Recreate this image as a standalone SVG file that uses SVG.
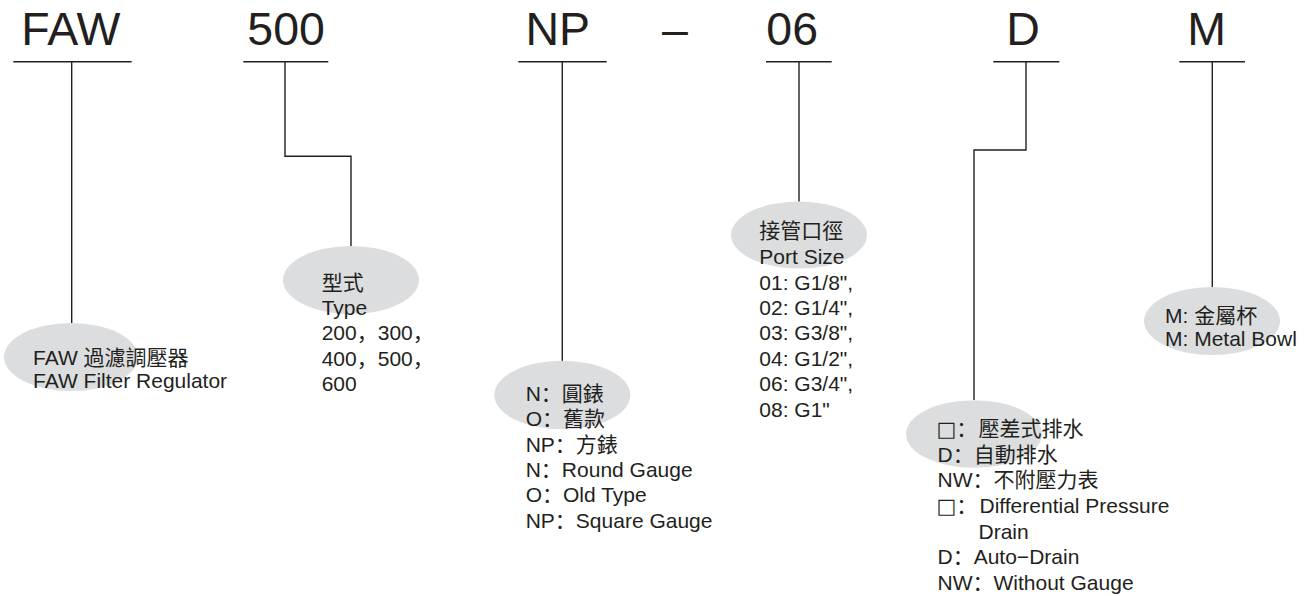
<svg xmlns="http://www.w3.org/2000/svg" width="1311" height="596" viewBox="0 0 1311 596">
<style>
.code{font-family:"Liberation Sans",Arial,sans-serif;font-size:46.5px;fill:#231f20}
.t{font-family:"Liberation Sans","Noto Sans CJK SC",sans-serif;font-size:21px;fill:#231f20}
.sq{font-family:"DejaVu Sans","Noto Sans CJK SC",sans-serif;font-weight:normal}
.ul,.cn{stroke:#231f20;stroke-width:1.4;fill:none}
.bub{fill:#dcdddf}
</style>
<rect width="1311" height="596" fill="#ffffff"/>
<g id="code-FAW"><text class="code" x="21.3" y="45">FAW</text><line class="ul" x1="13.3" y1="61.7" x2="131.7" y2="61.7"/></g>
<g id="code-500"><text class="code" x="247.3" y="45">500</text><line class="ul" x1="243.3" y1="61.7" x2="328.3" y2="61.7"/></g>
<g id="code-NP"><text class="code" x="525.5" y="45">NP</text><line class="ul" x1="518.3" y1="61.7" x2="606.7" y2="61.7"/></g>
<g id="code-dash"><text class="code" x="662" y="45">–</text></g>
<g id="code-06"><text class="code" x="766.3" y="45">06</text><line class="ul" x1="766" y1="61.7" x2="831.7" y2="61.7"/></g>
<g id="code-D"><text class="code" x="1006.3" y="45">D</text><line class="ul" x1="993.3" y1="61.7" x2="1059.3" y2="61.7"/></g>
<g id="code-M"><text class="code" x="1187.3" y="45">M</text><line class="ul" x1="1179.3" y1="61.7" x2="1245" y2="61.7"/></g>
<g id="connectors">
<path class="cn" d="M71.7 61.7V323"/>
<path class="cn" d="M285 61.7V156.3H351V246"/>
<path class="cn" d="M562.3 61.7V361"/>
<path class="cn" d="M799 61.7V201.7"/>
<path class="cn" d="M1026 61.7V150H974V400"/>
<path class="cn" d="M1212.3 61.7V287"/>
</g>
<g id="desc-FAW"><ellipse class="bub" cx="71" cy="357" rx="67" ry="34"/>
<text class="t" x="33" y="365">FAW 過濾調壓器</text>
<text class="t" x="33" y="388">FAW Filter Regulator</text></g>
<g id="desc-type"><ellipse class="bub" cx="351" cy="280" rx="68" ry="34"/>
<text class="t" x="321.7" y="289.5">型式</text>
<text class="t" x="321.7" y="315">Type</text>
<text class="t" x="321.7" y="340.3">200，300，</text>
<text class="t" x="321.7" y="365.6">400，500，</text>
<text class="t" x="321.7" y="391">600</text></g>
<g id="desc-gauge"><ellipse class="bub" cx="562.3" cy="395" rx="68" ry="34.3"/>
<text class="t" x="525.7" y="401">N：圓錶</text>
<text class="t" x="525.7" y="426.3">O：舊款</text>
<text class="t" x="525.7" y="451.6">NP：方錶</text>
<text class="t" x="525.7" y="476.9">N：Round Gauge</text>
<text class="t" x="525.7" y="502.2">O：Old Type</text>
<text class="t" x="525.7" y="527.5">NP：Square Gauge</text></g>
<g id="desc-port"><ellipse class="bub" cx="799" cy="235" rx="68" ry="33.5"/>
<text class="t" x="759.3" y="238">接管口徑</text>
<text class="t" x="759.3" y="264">Port Size</text>
<text class="t" x="759.3" y="289.6">01: G1/8",</text>
<text class="t" x="759.3" y="315">02: G1/4",</text>
<text class="t" x="759.3" y="340.3">03: G3/8",</text>
<text class="t" x="759.3" y="365.7">04: G1/2",</text>
<text class="t" x="759.3" y="391">06: G3/4",</text>
<text class="t" x="759.3" y="416.7">08: G1"</text></g>
<g id="desc-drain"><ellipse class="bub" cx="974" cy="434" rx="68" ry="33.7"/>
<text class="t" x="936.5" y="436"><tspan class="sq">□</tspan>：<tspan x="978.5">壓差式排水</tspan></text>
<text class="t" x="937.5" y="461.7">D：自動排水</text>
<text class="t" x="937.5" y="487.3">NW：不附壓力表</text>
<text class="t" x="936.5" y="513"><tspan class="sq">□</tspan>：<tspan x="979.5">Differential Pressure</tspan></text>
<text class="t" x="978.5" y="538.7">Drain</text>
<text class="t" x="937.5" y="564.3">D：Auto−Drain</text>
<text class="t" x="937.5" y="590">NW：Without Gauge</text></g>
<g id="desc-bowl"><ellipse class="bub" cx="1212" cy="321" rx="68" ry="34"/>
<text class="t" x="1165" y="322.7">M: 金屬杯</text>
<text class="t" x="1165" y="346">M: Metal Bowl</text></g>
</svg>
